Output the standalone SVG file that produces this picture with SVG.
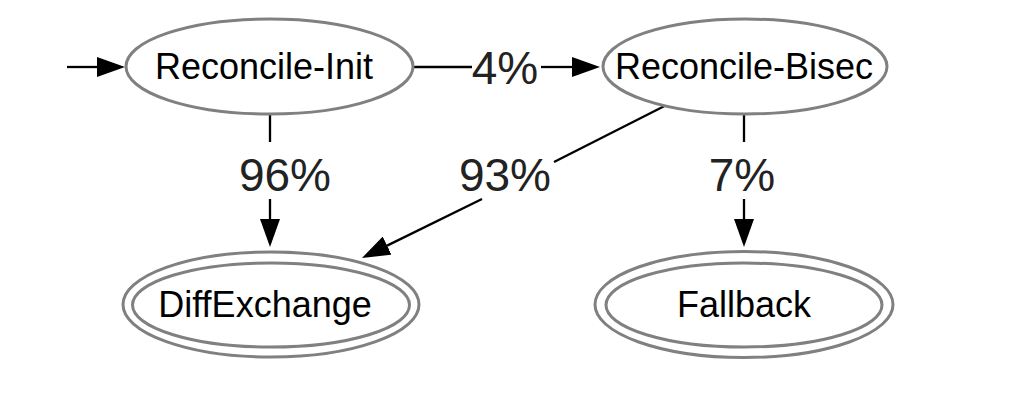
<svg xmlns="http://www.w3.org/2000/svg" width="1020" height="410" viewBox="0 0 1020 410">
<style>
.node ellipse{fill:none;stroke:#808080;stroke-width:3}
.node text{font-family:"Liberation Sans",Arial,sans-serif;font-size:36px;fill:#000;text-anchor:middle}
.edge line{stroke:#000;stroke-width:2.3}
.lbl{font-family:"Liberation Sans",Arial,sans-serif;font-size:46px;fill:#222;text-anchor:middle}
</style>
<defs>
<marker id="ah" viewBox="0 0 28 20" refX="0" refY="10" markerWidth="28" markerHeight="20" markerUnits="userSpaceOnUse" orient="auto">
<path d="M0,0 L28,10 L0,20 z" fill="#000"/>
</marker>
</defs>
<rect width="1020" height="410" fill="#fff"/>
<g id="edges" class="edge">
<line x1="67" y1="67" x2="97" y2="67" marker-end="url(#ah)"/>
<line x1="413" y1="67" x2="472" y2="67"/>
<line x1="541" y1="67" x2="572" y2="67" marker-end="url(#ah)"/>
<text class="lbl" x="505" y="84">4%</text>
<line x1="270" y1="113" x2="270" y2="142"/>
<line x1="270" y1="199" x2="270" y2="219" marker-end="url(#ah)"/>
<text class="lbl" x="285" y="191">96%</text>
<line x1="665" y1="105.7" x2="554" y2="162"/>
<line x1="482" y1="199" x2="387.1" y2="245.6" marker-end="url(#ah)"/>
<text class="lbl" x="505" y="191">93%</text>
<line x1="744" y1="113" x2="744" y2="142"/>
<line x1="744" y1="199" x2="744" y2="219" marker-end="url(#ah)"/>
<text class="lbl" x="742" y="191">7%</text>
</g>
<g id="reconcile-init" class="node">
<ellipse cx="269.5" cy="66.5" rx="143.5" ry="47.5"/>
<text x="264" y="79">Reconcile-Init</text>
</g>
<g id="reconcile-bisec" class="node">
<ellipse cx="745" cy="66.5" rx="142" ry="47.5"/>
<text x="744" y="79">Reconcile-Bisec</text>
</g>
<g id="diffexchange" class="node">
<ellipse cx="271" cy="304.5" rx="148" ry="52.5"/>
<ellipse cx="271" cy="305" rx="138.5" ry="42"/>
<text x="265" y="317">DiffExchange</text>
</g>
<g id="fallback" class="node">
<ellipse cx="744" cy="304.5" rx="149" ry="53"/>
<ellipse cx="744" cy="305" rx="138" ry="42"/>
<text x="744" y="317">Fallback</text>
</g>
</svg>
